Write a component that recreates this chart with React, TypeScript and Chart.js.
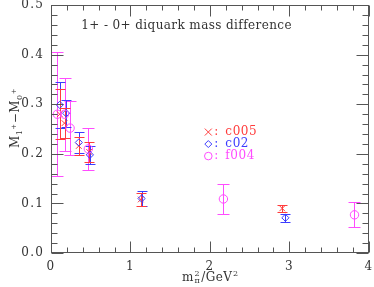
import React, { useEffect, useRef } from "react";
import { Chart, registerables } from "chart.js";

Chart.register(...registerables);

// ---- data ----
const c005X = [0.11, 0.17, 0.35, 0.48, 1.13, 2.91];
const c005Y = [0.28, 0.262, 0.216, 0.204, 0.108, 0.09];
const c005Err = [0.05, 0.03, 0.018, 0.02, 0.014, 0.007];

const c02X = [0.11, 0.19, 0.35, 0.49, 1.14, 2.95];
const c02Y = [0.299, 0.282, 0.223, 0.198, 0.11, 0.071];
const c02Err = [0.046, 0.027, 0.021, 0.018, 0.015, 0.008];

const f004X = [0.08, 0.17, 0.24, 0.47, 2.17, 3.82];
const f004Y = [0.28, 0.28, 0.252, 0.21, 0.109, 0.077];
const f004Err = [0.125, 0.074, 0.054, 0.043, 0.03, 0.025];

const xTicks = [0, 1, 2, 3, 4];
const yTicks = [0, 0.1, 0.2, 0.3, 0.4, 0.5];

const titleText = "1+ - 0+ diquark mass difference";
const legendLabels = ["c005", "c02", "f004"];

const RED = "#ff3c3c";
const BLUE = "#3c3cff";
const MAG = "#ff4cff";
const TEXT = "#333333";
const AXIS = "#555555";
const FONT = "DejaVu Serif";

function pts(xs: number[], ys: number[]) {
  return xs.map((x, i) => ({ x, y: ys[i] }));
}

const spacingPlugin = {
  id: "spacing",
  beforeDraw(chart: any) {
    (chart.ctx as any).letterSpacing = "1.2px";
  },
};

const errorBarPlugin = {
  id: "errorBars",
  beforeDatasetsDraw(chart: any) {
    const ctx = chart.ctx;
    const xs = chart.scales.x;
    const ys = chart.scales.y;
    chart.data.datasets.forEach((ds: any) => {
      const errs: number[] = ds.errors;
      const cap = ds.capHalf;
      ctx.save();
      ctx.strokeStyle = ds.errColor;
      ctx.lineWidth = 1;
      ds.data.forEach((p: any, i: number) => {
        const px = Math.round(xs.getPixelForValue(p.x)) + 0.5;
        const top = Math.round(ys.getPixelForValue(p.y + errs[i])) + 0.5;
        const bot = Math.round(ys.getPixelForValue(p.y - errs[i])) + 0.5;
        ctx.beginPath();
        ctx.moveTo(px, top);
        ctx.lineTo(px, bot);
        ctx.moveTo(px - cap, top);
        ctx.lineTo(px + cap, top);
        ctx.moveTo(px - cap, bot);
        ctx.lineTo(px + cap, bot);
        ctx.stroke();
      });
      ctx.restore();
    });
  },
};

const framePlugin = {
  id: "frame",
  afterDraw(chart: any) {
    const ctx = chart.ctx;
    const a = chart.chartArea;
    const xs = chart.scales.x;
    const ys = chart.scales.y;
    ctx.save();
    ctx.letterSpacing = "0px";
    ctx.strokeStyle = AXIS;
    ctx.lineWidth = 1;
    const L = Math.round(a.left) + 0.5;
    const R = Math.round(a.right) - 0.5;
    const T = Math.round(a.top) + 0.5;
    const B = Math.round(a.bottom) - 0.5;
    ctx.strokeRect(L, T, R - L, B - T);
    ctx.beginPath();
    for (let k = 0; k <= 20; k++) {
      const v = k * 0.2;
      const px = Math.round(xs.getPixelForValue(v)) + 0.5;
      const len = k % 5 === 0 ? 11 : 5;
      ctx.moveTo(px, B);
      ctx.lineTo(px, B - len);
      ctx.moveTo(px, T);
      ctx.lineTo(px, T + len);
    }
    for (let k = 0; k <= 25; k++) {
      const v = k * 0.02;
      const py = Math.round(ys.getPixelForValue(v)) + 0.5;
      const len = k % 5 === 0 ? 12 : 6;
      ctx.moveTo(L, py);
      ctx.lineTo(L + len, py);
      ctx.moveTo(R, py);
      ctx.lineTo(R - len, py);
    }
    ctx.stroke();

    // title inside plot
    ctx.fillStyle = TEXT;
    ctx.font = `12px "${FONT}"`;
    ctx.letterSpacing = "0.4px";
    ctx.textBaseline = "middle";
    ctx.textAlign = "left";
    ctx.fillText(titleText, xs.getPixelForValue(0.38), ys.getPixelForValue(0.459));

    // legend inside plot
    const colors = [RED, BLUE, MAG];
    const lx = xs.getPixelForValue(1.98);
    const ly0 = ys.getPixelForValue(0.244);
    ctx.letterSpacing = "0.6px";
    legendLabels.forEach((lab, i) => {
      const y = ly0 + i * 12;
      ctx.strokeStyle = colors[i];
      ctx.fillStyle = colors[i];
      ctx.lineWidth = 1;
      ctx.beginPath();
      if (i === 0) {
        ctx.moveTo(lx - 3.5, y - 3.5);
        ctx.lineTo(lx + 3.5, y + 3.5);
        ctx.moveTo(lx + 3.5, y - 3.5);
        ctx.lineTo(lx - 3.5, y + 3.5);
      } else if (i === 1) {
        ctx.moveTo(lx, y - 3.5);
        ctx.lineTo(lx + 3.5, y);
        ctx.lineTo(lx, y + 3.5);
        ctx.lineTo(lx - 3.5, y);
        ctx.closePath();
      } else {
        ctx.arc(lx, y, 3.8, 0, Math.PI * 2);
      }
      ctx.stroke();
      ctx.font = `12px "${FONT}"`;
      ctx.fillText(":", lx + 6, y);
      ctx.fillText(lab, lx + 17, y);
    });

    // x axis title: m^2_pi / GeV^2
    ctx.fillStyle = TEXT;
    ctx.letterSpacing = "0.5px";
    ctx.textBaseline = "alphabetic";
    const big = `12px "${FONT}"`;
    const small = `8px "${FONT}"`;
    ctx.font = big;
    const wM = ctx.measureText("m").width;
    const wRest = ctx.measureText("/GeV").width;
    ctx.font = small;
    const wS = Math.max(ctx.measureText("2").width, ctx.measureText("π").width);
    const total = wM + wS + 1 + wRest + wS;
    let x0 = (a.left + a.right) / 2 - total / 2;
    const by = 281;
    ctx.font = big;
    ctx.fillText("m", x0, by);
    x0 += wM + 0.5;
    ctx.font = small;
    ctx.fillText("2", x0, by - 5);
    ctx.fillText("π", x0, by + 2);
    x0 += wS + 1;
    ctx.font = big;
    ctx.fillText("/GeV", x0, by);
    x0 += wRest + 0.5;
    ctx.font = small;
    ctx.fillText("2", x0, by - 5);

    // y axis title: M_{1+} - M_{0+}
    ctx.save();
    ctx.translate(15, 118);
    ctx.rotate(-Math.PI / 2);
    const parts: [string, string, number][] = [
      ["M", big, 0],
      ["1", small, 3],
      ["+", `7px "${FONT}"`, -3],
      ["−", big, 0],
      ["M", big, 0],
      ["0", small, 3],
      ["+", `7px "${FONT}"`, -3],
    ];
    let tw = 0;
    parts.forEach(([t, f]) => {
      ctx.font = f;
      tw += ctx.measureText(t).width;
    });
    let cx = -tw / 2;
    parts.forEach(([t, f, dy]) => {
      ctx.font = f;
      ctx.fillText(t, cx, 4 + dy);
      cx += ctx.measureText(t).width;
    });
    ctx.restore();

    ctx.restore();
  },
};

export default function App() {
  const ref = useRef<HTMLCanvasElement>(null);
  useEffect(() => {
    if (!ref.current) return;
    const chart = new Chart(ref.current, {
      type: "scatter",
      data: {
        datasets: [
          {
            label: "f004",
            data: pts(f004X, f004Y),
            pointStyle: "circle",
            radius: 4.2,
            borderColor: MAG,
            backgroundColor: "rgba(0,0,0,0)",
            borderWidth: 1,
            errors: f004Err,
            errColor: MAG,
            capHalf: 6,
          } as any,
          {
            label: "c02",
            data: pts(c02X, c02Y),
            pointStyle: "rectRot",
            radius: 3.6,
            borderColor: BLUE,
            backgroundColor: "rgba(0,0,0,0)",
            borderWidth: 1,
            errors: c02Err,
            errColor: BLUE,
            capHalf: 5,
          } as any,
          {
            label: "c005",
            data: pts(c005X, c005Y),
            pointStyle: "crossRot",
            radius: 4,
            borderColor: RED,
            backgroundColor: RED,
            borderWidth: 1,
            errors: c005Err,
            errColor: RED,
            capHalf: 5,
          } as any,
        ],
      },
      options: {
        animation: false,
        responsive: false,
        devicePixelRatio: 1,
        layout: { padding: { top: 4, right: 4, left: 0, bottom: 0 } },
        plugins: { legend: { display: false }, tooltip: { enabled: false }, title: { display: false } },
        scales: {
          x: {
            type: "linear",
            min: 0,
            max: 4,
            afterBuildTicks: (s: any) => {
              s.ticks = xTicks.map((v) => ({ value: v }));
            },
            ticks: {
              color: TEXT,
              font: { family: FONT, size: 12 },
              padding: 7,
              callback: (v: any) => String(v),
              maxRotation: 0,
            },
            grid: { display: false, drawTicks: false },
            border: { display: false },
            afterFit: (s: any) => {
              s.height = 34;
              s.paddingLeft = 0;
              s.paddingRight = 0;
            },
          },
          y: {
            type: "linear",
            min: 0,
            max: 0.5,
            afterBuildTicks: (s: any) => {
              s.ticks = yTicks.map((v) => ({ value: v }));
            },
            ticks: {
              color: TEXT,
              font: { family: FONT, size: 12 },
              padding: 7,
              callback: (v: any) => Number(v).toFixed(1),
            },
            grid: { display: false, drawTicks: false },
            border: { display: false },
            afterFit: (s: any) => {
              s.width = 51;
              s.paddingTop = 0;
              s.paddingBottom = 0;
            },
          },
        },
      },
      plugins: [spacingPlugin, errorBarPlugin, framePlugin],
    } as any);
    return () => chart.destroy();
  }, []);
  return (
    <div style={{ position: "absolute", left: 0, top: 0, width: 374, height: 287 }}>
      <canvas ref={ref} width={374} height={287} style={{ display: "block" }} />
    </div>
  );
}
